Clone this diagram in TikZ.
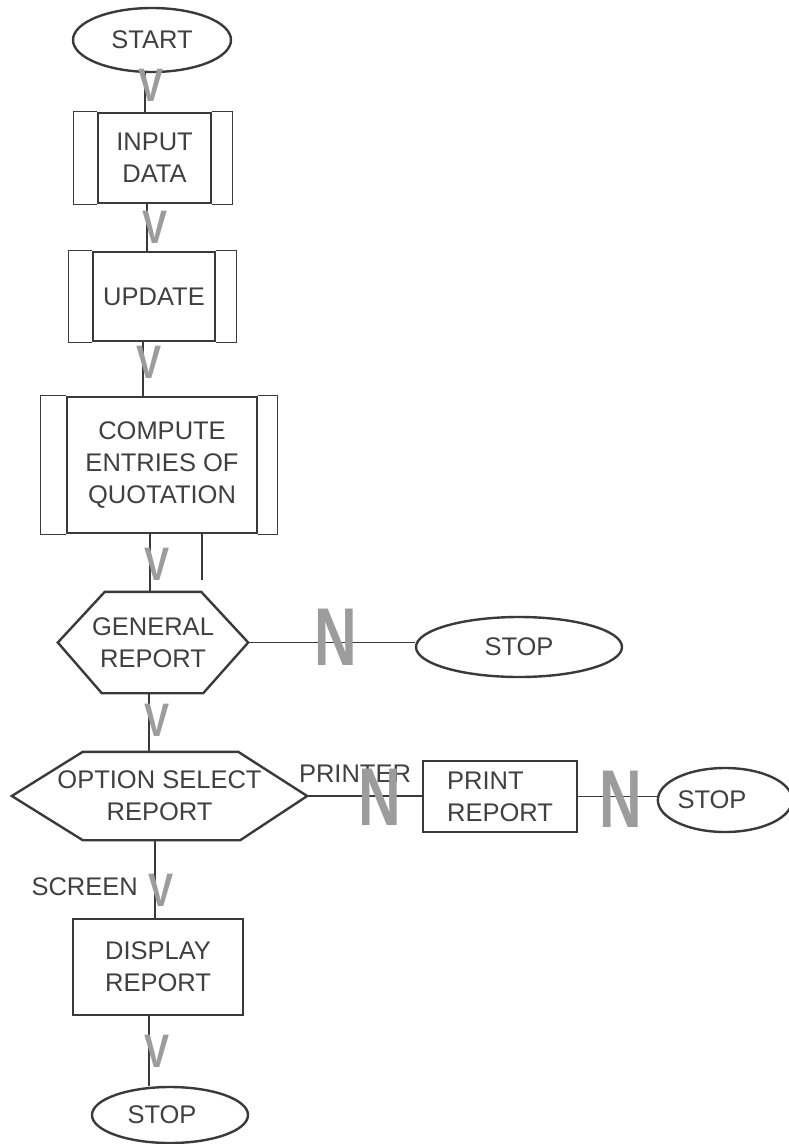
\documentclass[tikz,border=0pt]{standalone}
\usepackage{fontspec}
\setmainfont{Liberation Sans}
\usetikzlibrary{shapes.geometric}

\definecolor{ink}{HTML}{3A3A3A}
\definecolor{txt}{HTML}{404040}
\definecolor{markgray}{HTML}{9C9C9C}

\tikzset{
  lbl/.style={font=\fontsize{25.5}{32}\selectfont, text=txt, align=center, inner sep=0pt},
  term/.style={lbl, ellipse, draw=ink, line width=2.4pt},
  proc/.style={lbl, rectangle, draw=ink, line width=2.2pt},
  wing/.style={draw=ink, line width=1.1pt},
  hexa/.style={lbl, rectangle, draw=none},
  hexline/.style={draw=ink, line width=2.4pt, line join=miter},
  flow/.style={draw=ink, line width=1.2pt},
  vmark/.style={inner sep=0pt, text=markgray, font=\fontsize{47}{47}\selectfont\bfseries},
  nmark/.style={inner sep=0pt, text=markgray, font=\fontsize{82}{82}\selectfont\bfseries},
}

\begin{document}
\begin{tikzpicture}[x=1pt, y=-1pt]
\useasboundingbox (0,0) rectangle (789,1144);

% ---- main column ----
\node[term, minimum width=158pt, minimum height=64pt] (start) at (152,40) {START};

\node[proc, minimum width=113pt, minimum height=90pt] (input) at (154.5,158) {INPUT\\DATA};
\draw[wing] (input.north west) -- ++(-23,0) |- (input.south west);
\draw[wing] (input.north east) -- ++(20,0) |- (input.south east);

\node[proc, minimum width=122pt, minimum height=89pt] (update) at (154,296.5) {UPDATE};
\draw[wing] (update.north west) -- ++(-23,0) |- (update.south west);
\draw[wing] (update.north east) -- ++(20,0) |- (update.south east);

\node[proc, minimum width=190pt, minimum height=136pt] (compute) at (162,465) {COMPUTE\\ENTRIES OF\\QUOTATION};
\draw[wing] (compute.north west) -- ++(-25,0) |- (compute.south west);
\draw[wing] (compute.north east) -- ++(19,0) |- (compute.south east);

\node[hexa, minimum width=190pt, minimum height=101pt] (general) at (153,642.5) {GENERAL\\REPORT};
\draw[hexline] (general.west) -- ([xshift=47pt]general.north west)
  -- ([xshift=-47pt]general.north east) -- (general.east)
  -- ([xshift=-45pt]general.south east) -- ([xshift=44pt]general.south west) -- cycle;

\node[term, minimum width=206pt, minimum height=60pt] (stopa) at (519,647) {STOP};

\node[hexa, minimum width=295pt, minimum height=88pt] (option) at (159.5,796) {OPTION SELECT\\REPORT};
\draw[hexline] (option.west) -- ([xshift=71pt]option.north west)
  -- ([xshift=-69pt]option.north east) -- (option.east)
  -- ([xshift=-67pt]option.south east) -- ([xshift=71pt]option.south west) -- cycle;

\node[proc, minimum width=154pt, minimum height=71pt, align=left] (print) at (500,796.5) {PRINT\\REPORT};
\node[term, minimum width=122pt, minimum height=64pt] (stopb) at (725,800) {STOP\hspace*{26pt}};

\node[proc, minimum width=170pt, minimum height=96pt, align=left] (display) at (158,967) {DISPLAY\\REPORT};
\node[term, minimum width=156pt, minimum height=56pt] (stopc) at (170,1115) {STOP\hspace*{16pt}};

% ---- connectors ----
\coordinate (x1) at (145,0);
\coordinate (x2) at (147,0);
\coordinate (x3) at (143,0);
\coordinate (x4) at (150,0);
\coordinate (x5) at (149,0);
\coordinate (x6) at (155,0);
\coordinate (x7) at (149,0);
\coordinate (tick) at (202,580);

\draw[flow] (start.south -| x1) -- (input.north -| x1);
\draw[flow] (input.south -| x2) -- (update.north -| x2);
\draw[flow] (update.south -| x3) -- (compute.north -| x3);
\draw[flow] (compute.south -| x4) -- (general.north -| x4);
\draw[flow] (compute.south -| tick) -- (tick);
\draw[flow] (general.south -| x5) -- (option.north -| x5);
\draw[flow] (general.east) -- (general.east -| stopa.west);
\draw[flow] (option.east) -- (option.east -| print.west);
\draw[flow] (print.east) -- (print.east -| stopb.west);
\draw[flow] (option.south -| x6) -- (display.north -| x6);
\draw[flow] (display.south -| x7) -- (stopc.north -| x7);

% ---- branch labels ----
\node[lbl] (printer) at (355,774) {PRINTER};
\node[lbl, anchor=east] (screen) at (138,887) {SCREEN};

% ---- flow marks ----
\node[vmark] (v1) at (151,85) {\scalebox{0.8}[1]{V}};
\node[vmark] (v2) at (155,227) {\scalebox{0.8}[1]{V}};
\node[vmark] (v3) at (149,362) {\scalebox{0.8}[1]{V}};
\node[vmark] (v4) at (157,564) {\scalebox{0.8}[1]{V}};
\node[vmark] (v5) at (157,720) {\scalebox{0.8}[1]{V}};
\node[vmark] (v6) at (161,890) {\scalebox{0.8}[1]{V}};
\node[vmark] (v7) at (157,1051) {\scalebox{0.8}[1]{V}};

\node[nmark] (n1) at (336,637) {\scalebox{0.72}[1]{N}};
\node[nmark] (n2) at (380,797) {\scalebox{0.72}[1]{N}};
\node[nmark] (n3) at (621,799) {\scalebox{0.72}[1]{N}};
\end{tikzpicture}
\end{document}
